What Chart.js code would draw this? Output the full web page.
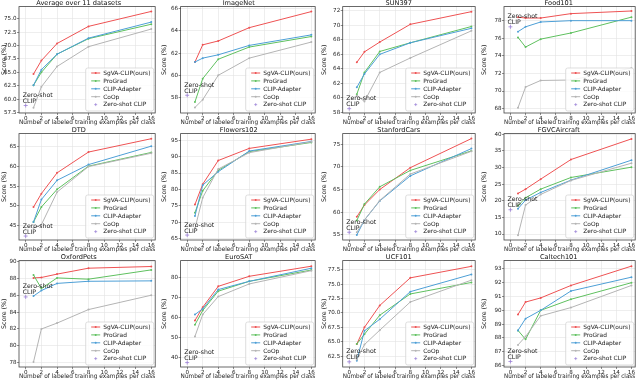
<!DOCTYPE html>
<html><head><meta charset="utf-8">
<script src="https://cdn.jsdelivr.net/npm/chart.js@4.4.1/dist/chart.umd.min.js"></script>
<style>
body{margin:0;background:#fff;width:640px;height:381px;overflow:hidden;position:relative}
canvas{position:absolute}
</style></head><body>
<script>
const titles=['Average over 11 datasets','ImageNet','SUN397','Food101','DTD','Flowers102','StanfordCars','FGVCAircraft','OxfordPets','EuroSAT','UCF101','Caltech101'];
const shots=[1,2,4,8,16];
const seriesNames=['SgVA-CLIP(ours)','ProGrad','CLIP-Adapter','CoOp','Zero-shot CLIP'];
const sgva=[[64.7,67.2,70.4,73.6,76.4],[61.2,62.75,63.1,64.3,65.75],[64.9,66.35,67.7,70.15,71.9],[78.4,78.3,78.3,78.8,79.1],
[49.7,53.1,58.4,63.7,67.1],[75.4,81.6,88.8,92.5,95.3],[59.0,61.6,65.0,69.8,76.2],[22.2,23.5,26.5,32.4,38.6],
[88.05,88.1,88.5,89.2,89.4],[58.5,65.1,75.5,80.5,85.5],[64.6,67.5,71.3,76.1,78.1],[89.7,90.6,90.9,91.8,93.2]];
const prograd=[[62.6,65.0,68.4,71.3,74.0],[57.6,59.7,61.45,62.55,63.5],[60.5,63.5,66.4,67.6,69.85],[76.1,75.0,75.9,76.6,78.4],
[45.9,49.7,54.2,60.1,63.6],[72.9,79.6,85.8,91.5,94.3],[58.2,61.8,65.6,69.2,73.5],[18.5,20.9,23.5,27.0,30.1],
[88.4,86.8,88.05,87.9,89.0],[56.4,63.5,73.1,78.0,83.6],[64.6,66.3,69.6,73.3,75.3],[88.55,87.9,90.0,90.8,92.0]];
const clipAdapter=[[62.6,65.5,68.4,71.4,74.4],[61.2,61.55,61.85,62.7,63.65],[61.45,63.3,66.0,67.6,69.6],[76.75,77.3,77.85,78.0,78.0],
[45.9,51.6,56.5,60.5,65.2],[71.9,81.3,85.4,91.7,94.6],[55.0,58.3,62.5,68.0,74.0],[17.6,20.2,22.5,26.2,32.2],
[85.9,86.55,87.4,87.65,87.7],[61.5,64.3,73.9,78.0,84.5],[61.7,66.9,68.9,73.7,76.7],[88.55,89.4,90.0,91.4,92.4]];
const coop=[[58.4,62.3,66.1,69.8,73.1],[57.1,57.8,60.0,61.55,63.0],[60.3,59.5,63.5,65.5,69.25],[68.1,70.45,71.2,71.25,72.6],
[44.4,45.2,53.5,60.0,63.4],[68.1,77.5,86.2,91.2,94.5],[55.6,58.3,62.6,68.4,73.4],[9.6,18.7,21.9,26.1,31.3],
[78.1,82.0,82.7,84.3,86.0],[50.6,61.5,70.4,76.7,83.3],[61.9,64.5,67.0,71.9,75.7],[87.5,88.1,89.6,90.2,91.8]];
const zeroShot=[58.8,58.2,58.5,77.3,42.3,66.1,55.6,17.3,85.8,37.6,61.5,86.3];
const yMin=[57.4,56.6,57.9,67.5,41.3,64.6,53.9,8.2,77.5,35.4,60.6,85.9];
const yMax=[77.3,66.2,72.6,79.6,68.4,97.0,77.3,40.2,90.1,88.3,79.1,93.6];
const yStep=[2.5,2,2,2,5,5,5,5,2,10,2.5,1];
const yDecimals=[1,0,0,0,0,0,0,0,0,0,1,0];

const colors=['#ee5253','#5fc05f','#4d9fd6','#b4b4b4','#9a7fd6'];
const plotLeft=[19,20.6,22.7,24];
const FONT="'DejaVu Sans', sans-serif";
Chart.defaults.font.family=FONT;
Chart.defaults.color='#222';

const boxPlugin={id:'boxPlugin',
  afterDraw(chart){
    const ctx=chart.ctx,a=chart.chartArea;
    ctx.save();
    ctx.strokeStyle='#444';ctx.lineWidth=0.8;
    ctx.strokeRect(a.left,a.top,a.right-a.left,a.bottom-a.top);
    const xs=chart.scales.x, ys=chart.scales.y;
    const idx=chart.options.plugins.boxPlugin.idx;
    const px=xs.getPixelForValue(0)-3, py=ys.getPixelForValue(zeroShot[idx])-1;
    ctx.fillStyle='#222';ctx.font='6.2px '+FONT;ctx.textAlign='left';ctx.textBaseline='bottom';
    ctx.fillText('Zero-shot',px,py-6);
    ctx.fillText('CLIP',px,py);
    const w=68,h=43;
    const lx=a.right-1.5-w, ly=a.bottom-2-h;
    ctx.fillStyle='rgba(255,255,255,0.85)';ctx.strokeStyle='#d0d0d0';ctx.lineWidth=0.7;
    ctx.beginPath();ctx.roundRect(lx,ly,w,h,2);ctx.fill();ctx.stroke();
    ctx.font='5.9px '+FONT;ctx.textBaseline='middle';
    for(let i=0;i<5;i++){
      const yy=ly+5+i*7.9;
      ctx.strokeStyle=colors[i];ctx.fillStyle=colors[i];
      if(i<4){
        ctx.lineWidth=1;ctx.beginPath();ctx.moveTo(lx+5.5,yy);ctx.lineTo(lx+14.5,yy);ctx.stroke();
        ctx.beginPath();ctx.arc(lx+10,yy,1,0,Math.PI*2);ctx.fill();
      } else {
        ctx.lineWidth=0.7;ctx.beginPath();ctx.moveTo(lx+8.5,yy);ctx.lineTo(lx+11.5,yy);ctx.moveTo(lx+10,yy-1.5);ctx.lineTo(lx+10,yy+1.5);ctx.stroke();
      }
      ctx.fillStyle='#222';ctx.fillText(seriesNames[i],lx+17.5,yy+0.3);
    }
    ctx.restore();
  }
};

for(let i=0;i<12;i++){
  const c=document.createElement('canvas');
  c.width=160;c.height=127;
  c.style.left=((i%4)*160)+'px';c.style.top=(Math.floor(i/4)*127)+'px';
  c.style.width='160px';c.style.height='127px';
  document.body.appendChild(c);
  const mk=(arr,k)=>({label:seriesNames[k],data:shots.map((s,j)=>({x:s,y:arr[i][j]})),
    borderColor:colors[k],backgroundColor:colors[k],borderWidth:1,pointRadius:1,pointBorderWidth:0,showLine:true,tension:0});
  const ds=[mk(coop,3),mk(clipAdapter,2),mk(prograd,1),mk(sgva,0),
    {label:seriesNames[4],data:[{x:0,y:zeroShot[i]}],showLine:false,pointStyle:'cross',pointRadius:2,
     borderColor:colors[4],backgroundColor:colors[4],borderWidth:0.8}];
  const pl=plotLeft[i%4];
  new Chart(c,{type:'scatter',data:{datasets:ds},plugins:[boxPlugin],
    options:{responsive:false,animation:false,devicePixelRatio:1,
      layout:{padding:{left:0,right:2.5,top:0,bottom:0}},
      plugins:{legend:{display:false},tooltip:{enabled:false},boxPlugin:{idx:i},
        title:{display:true,text:titles[i],font:{size:6.6,weight:'normal',lineHeight:1.0},padding:{top:0,bottom:0},color:'#111'}},
      scales:{
        x:{type:'linear',min:-0.85,max:16.5,
          ticks:{stepSize:2,includeBounds:false,autoSkip:false,maxRotation:0,font:{size:5.6},padding:0,color:'#222'},
          grid:{color:'#e3e3e3',lineWidth:0.6,tickColor:'#444',tickLength:2},border:{display:false},
          title:{display:true,text:'Number of labeled training examples per class',font:{size:6.2},padding:{top:0,bottom:0.6},color:'#222'},
          afterFit(s){s.height=14;}},
        y:{type:'linear',min:yMin[i],max:yMax[i],
          ticks:{stepSize:yStep[i],includeBounds:false,autoSkip:false,font:{size:5.6},padding:0.5,color:'#222',
            callback:(v)=>Number(v).toFixed(yDecimals[i])},
          grid:{color:'#e3e3e3',lineWidth:0.6,tickColor:'#444',tickLength:2},border:{display:false},
          title:{display:true,text:'Score (%)',font:{size:6.3},padding:{top:0.8,bottom:0},color:'#222'},
          afterFit(s){s.width=pl;}}
      }}});
}
</script>
</body></html>
